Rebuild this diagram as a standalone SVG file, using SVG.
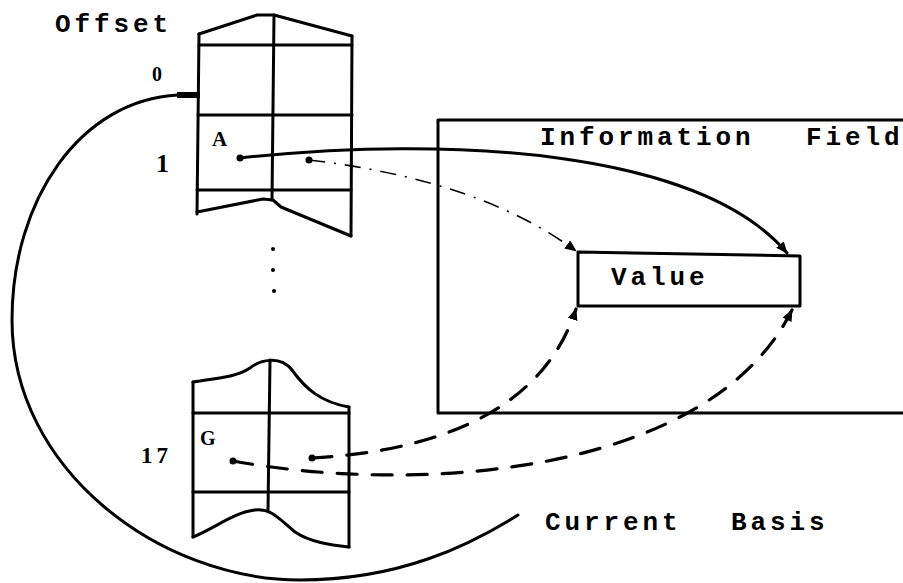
<svg xmlns="http://www.w3.org/2000/svg" width="903" height="583" viewBox="0 0 903 583">
<style>
.ln{fill:none;stroke:#000;stroke-width:3;stroke-linejoin:round;stroke-linecap:round}
.mono{font-family:"Liberation Mono","DejaVu Sans Mono",monospace;font-weight:bold;font-size:26px;letter-spacing:3.9px;fill:#000}
.ser{font-family:"Liberation Serif","DejaVu Serif",serif;font-weight:bold;fill:#000}
.dash{fill:none;stroke:#000;stroke-width:3.2;stroke-dasharray:20 15;stroke-linecap:round}
.dd{fill:none;stroke:#000;stroke-width:1.6;stroke-dasharray:16 9 2 9}
</style>
<defs>
<marker id="ah" viewBox="0 0 12 10" refX="11" refY="5" markerWidth="12" markerHeight="10" markerUnits="userSpaceOnUse" orient="auto">
<path d="M0,0 L12,5 L0,10 Z" fill="#000"/>
</marker>
</defs>
<rect width="903" height="583" fill="#fff"/>

<text class="mono" x="55" y="32">Offset</text>

<g id="top-column">
<path class="ln" d="M199,34 L257,15 L274,15 L352,36"/>
<path class="ln" d="M199,34 L197,214"/>
<path class="ln" d="M352,36 L351,236"/>
<path class="ln" d="M274,15 L272,200"/>
<path class="ln" d="M199,45 H352 M198,115 H352 M197,190 H351"/>
<path class="ln" d="M197,212 L263,199 L273,200 L281,207 L351,236"/>
<text class="ser" x="152" y="81" font-size="20">0</text>
<text class="ser" x="156" y="172" font-size="26">1</text>
<text class="ser" x="212" y="146" font-size="21">A</text>
<circle cx="240" cy="158" r="3.5"/>
<circle cx="309" cy="160" r="3.5"/>
</g>

<g id="ellipsis">
<circle cx="273" cy="249" r="2"/>
<circle cx="273" cy="270" r="2"/>
<circle cx="274" cy="291" r="2"/>
</g>

<g id="bottom-column">
<path class="ln" d="M193,382 C215,378 235,378 250,368 C260,360 280,355 292,370 C305,388 320,402 349,407"/>
<path class="ln" d="M193,382 V537"/>
<path class="ln" d="M349,407 V547"/>
<path class="ln" d="M270,360 L268,510"/>
<path class="ln" d="M193,413 H349 M193,492 H349"/>
<path class="ln" d="M193,537 C215,528 235,512 255,510 C272,508 280,520 295,532 C310,542 330,545 349,547"/>
<text class="ser" x="141" y="463" font-size="23" letter-spacing="4">17</text>
<text class="ser" x="200" y="445" font-size="20">G</text>
<circle cx="233" cy="461" r="3.5"/>
<circle cx="312" cy="458" r="3.5"/>
</g>

<g id="information-field">
<path class="ln" d="M903,120 H438 V413 H903"/>
<text class="mono" x="540" y="145">Information<tspan x="806">Field</tspan></text>
</g>

<g id="value">
<path class="ln" d="M578,252 L800,256 L800,306 L578,306 Z"/>
<text class="mono" x="611" y="285">Value</text>
</g>

<text class="mono" x="545" y="530">Current <tspan x="731">Basis</tspan></text>

<g id="connectors">
<path class="ln" d="M240,158 C450,135 700,150 787,253" marker-end="url(#ah)"/>
<path class="dd" d="M309,160 Q480,180 576,251" marker-end="url(#ah)"/>
<path class="dash" d="M312,458 C420,452 540,420 576,309" marker-end="url(#ah)"/>
<path class="dash" d="M233,461 C420,495 710,475 792,310" marker-end="url(#ah)"/>
<path class="ln" d="M178,95 C80,100 12,200 12,320 C12,470 160,580 300,580 C400,580 470,545 518,515"/>
<path d="M177,95 H200" stroke="#000" stroke-width="6" fill="none"/>
</g>
</svg>
